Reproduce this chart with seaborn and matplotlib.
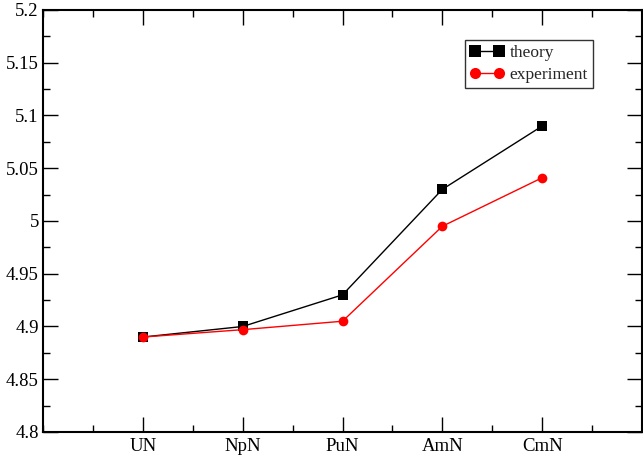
import pandas as pd
import matplotlib
matplotlib.use("Agg")
import matplotlib.pyplot as plt
from matplotlib.ticker import MultipleLocator
import seaborn as sns

# lattice constants
compounds = ["UN", "NpN", "PuN", "AmN", "CmN"]
theory = [4.89, 4.90, 4.93, 5.03, 5.09]
experiment = [4.89, 4.897, 4.905, 4.995, 5.041]

pos = list(range(1, len(compounds) + 1))
df = pd.DataFrame({
    "x": pos * 2,
    "a": theory + experiment,
    "series": ["theory"] * len(pos) + ["experiment"] * len(pos),
})

sns.set_style("ticks")
plt.rcParams["font.family"] = ["Liberation Serif", "DejaVu Serif"]

fig = plt.figure(figsize=(6.43, 4.57), dpi=100)
ax = fig.add_axes([43 / 643, 25 / 457, 599 / 643, 422 / 457])

sns.lineplot(data=df, x="x", y="a", hue="series", style="series",
             palette={"theory": "black", "experiment": "red"},
             markers={"theory": "s", "experiment": "o"},
             dashes=False, markersize=7, markeredgewidth=0,
             linewidth=1, ax=ax)

ax.set_xlim(0, 6)
ax.set_ylim(4.8, 5.2)
ax.set_xticks(pos)
ax.set_xticklabels(compounds)
ax.xaxis.set_minor_locator(MultipleLocator(0.5))
ax.yaxis.set_major_locator(MultipleLocator(0.05))
ax.yaxis.set_minor_locator(MultipleLocator(0.025))
ax.set_yticklabels([f"{v:g}" for v in ax.get_yticks()])
ax.set_xlabel("")
ax.set_ylabel("")

for s in ax.spines.values():
    s.set_visible(True)
    s.set_linewidth(1.5)
    s.set_color("black")

ax.tick_params(which="both", direction="in", top=True, right=True,
               colors="black", labelsize=13.5, width=1)
ax.tick_params(which="major", length=11)
ax.tick_params(which="minor", length=5)
ax.tick_params(axis="y", which="major", pad=3)
ax.tick_params(axis="x", which="major", pad=4)

handles, labels = ax.get_legend_handles_labels()
leg = ax.legend(handles, labels, loc="upper right",
                bbox_to_anchor=(0.918, 0.93), numpoints=2,
                fontsize=12.5, frameon=True, fancybox=False,
                borderaxespad=0, handlelength=1.95, handletextpad=0.3,
                labelspacing=0.35, borderpad=0.3)
leg.get_frame().set_edgecolor("black")
leg.get_frame().set_linewidth(1)
for h in leg.legend_handles:
    h.set_markersize(8)

fig.savefig("out.png", dpi=100)
